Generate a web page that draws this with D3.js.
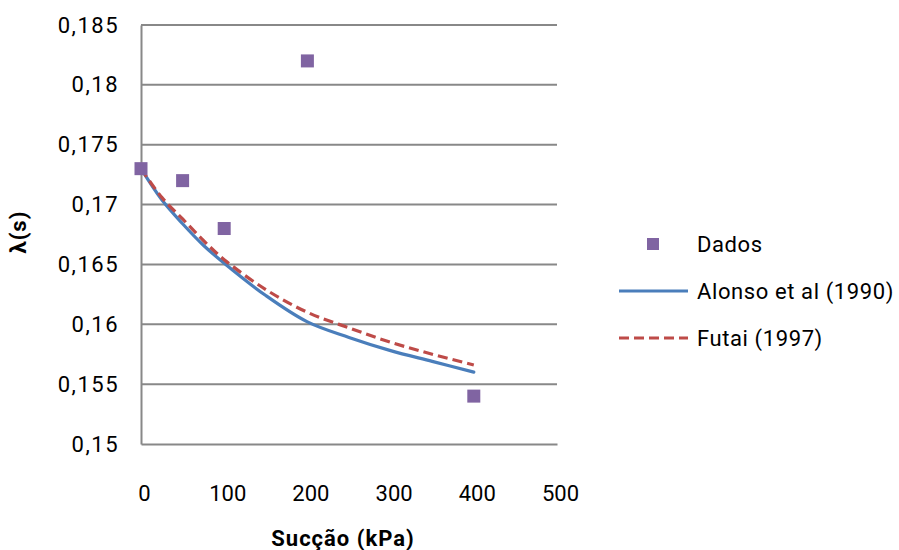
<!DOCTYPE html>
<html><head><meta charset="utf-8">
<script src="https://cdn.jsdelivr.net/npm/d3@7"></script>
<style>body{margin:0;background:#fff;} text{font-family:Roboto, "Liberation Sans", sans-serif;}</style>
</head><body>
<svg id="chart" width="899" height="550"></svg>
<script>
const dadosX = [0, 50, 100, 200, 400];
const dadosY = [0.173, 0.172, 0.168, 0.182, 0.154];
const curveX = [0, 25, 50, 75, 100, 150, 200, 250, 300, 350, 400];
const alonsoY = [0.1730, 0.1704, 0.1684, 0.1666, 0.1651, 0.1624, 0.1602, 0.1589, 0.1578, 0.1569, 0.1560];
const futaiY  = [0.1730, 0.1706, 0.1688, 0.1670, 0.1654, 0.1629, 0.1610, 0.1597, 0.1585, 0.1575, 0.1566];
const xTicks = [0, 100, 200, 300, 400, 500];
const yTicks = [0.15, 0.155, 0.16, 0.165, 0.17, 0.175, 0.18, 0.185];
const seriesNames = ["Dados", "Alonso et al (1990)", "Futai (1997)"];
const colors = {dados:"#8064A2", alonso:"#4A7EBB", futai:"#BE4B48"};

const svg = d3.select("#chart");
const x = d3.scaleLinear().domain([0, 500]).range([141, 557]);
const y = d3.scaleLinear().domain([0.15, 0.185]).range([444, 25]);
const fmt = d => String(+d.toFixed(3)).replace(".", ",");

// gridlines
svg.append("g").selectAll("line").data(yTicks.slice(1)).join("line")
  .attr("x1", x(0)).attr("x2", x(500)).attr("y1", d => y(d)).attr("y2", d => y(d))
  .attr("stroke", "#888").attr("stroke-width", 2);

// axes
const yAxis = d3.axisLeft(y).tickValues(yTicks).tickSize(0).tickPadding(24).tickFormat(fmt);
const gy = svg.append("g").attr("transform", `translate(${x(0)},0)`).call(yAxis);
gy.select(".domain").attr("stroke", "#888").attr("stroke-width", 2);
gy.selectAll("text").attr("font-size", 22).attr("fill", "#000").attr("font-family", "Roboto")
  .attr("letter-spacing", 1.5).attr("dx", 2);

const xAxis = d3.axisBottom(x).tickValues(xTicks).tickSize(0).tickPadding(41).tickFormat(d3.format("d"));
const gx = svg.append("g").attr("transform", `translate(0,${y(0.15)})`).call(xAxis);
gx.select(".domain").attr("stroke", "#888").attr("stroke-width", 2);
gx.selectAll("text").attr("font-size", 22).attr("fill", "#000").attr("font-family", "Roboto").attr("dx", 3);

// lines
const line = d3.line().curve(d3.curveCatmullRom.alpha(0.5));
svg.append("path").attr("d", line(curveX.map((v,i)=>[x(v), y(alonsoY[i])])))
  .attr("fill","none").attr("stroke",colors.alonso).attr("stroke-width",3.2).attr("stroke-linecap","round");
svg.append("path").attr("d", line(curveX.map((v,i)=>[x(v), y(futaiY[i])])))
  .attr("fill","none").attr("stroke",colors.futai).attr("stroke-width",3.2).attr("stroke-dasharray","10,5");

// markers
svg.append("g").selectAll("rect").data(dadosX.map((v,i)=>[v, dadosY[i]])).join("rect")
  .attr("x", d => x(d[0]) - 6.5).attr("y", d => y(d[1]) - 6.5).attr("width", 13).attr("height", 13)
  .attr("fill", colors.dados);

// axis titles
svg.append("text").attr("x", 343).attr("y", 546).attr("text-anchor","middle")
  .attr("font-size", 22).attr("font-weight","bold").attr("letter-spacing", 1).text("Sucção (kPa)");
svg.append("text").attr("transform","translate(26,232) rotate(-90)").attr("text-anchor","middle")
  .attr("font-size", 22).attr("font-weight","bold").attr("letter-spacing", 1).text("λ(s)");

// legend
const lg = svg.append("g");
lg.append("rect").attr("x", 647).attr("y", 238).attr("width", 12).attr("height", 12).attr("fill", colors.dados);
lg.append("line").attr("x1", 619).attr("x2", 688).attr("y1", 291).attr("y2", 291)
  .attr("stroke", colors.alonso).attr("stroke-width", 3.2);
lg.append("line").attr("x1", 619).attr("x2", 688).attr("y1", 338).attr("y2", 338)
  .attr("stroke", colors.futai).attr("stroke-width", 3.2).attr("stroke-dasharray","10,5");
[244, 291, 338].forEach((yy, i) => {
  lg.append("text").attr("x", 697).attr("y", yy).attr("dy","0.35em").attr("font-size", 22)
    .attr("letter-spacing", 0.6).text(seriesNames[i]);
});
</script>
</body></html>
